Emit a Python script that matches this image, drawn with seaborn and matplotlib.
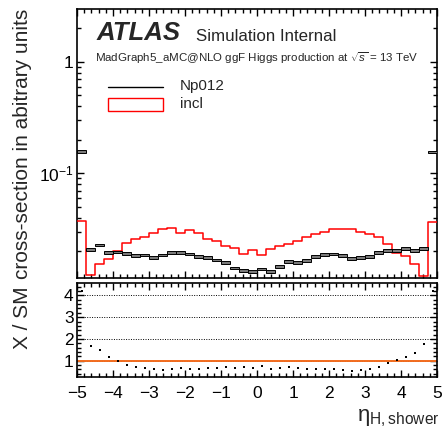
import numpy as np
import pandas as pd
import matplotlib
matplotlib.use("Agg")
import matplotlib.pyplot as plt
import seaborn as sns
from matplotlib.ticker import (AutoMinorLocator, MultipleLocator, FixedLocator,
                               FixedFormatter, LogLocator, NullFormatter)
from matplotlib.lines import Line2D
from matplotlib.patches import Rectangle

# ---------------- data ----------------
eta_range = (-5, 5)
bin_width = 0.25
incl = [0.0374, 0.0123, 0.0153, 0.0171, 0.0203, 0.0236, 0.0256, 0.0271, 0.0294, 0.0315,
        0.0321, 0.0290, 0.0310, 0.0290, 0.0260, 0.0247, 0.0223, 0.0213, 0.0188, 0.0204,
        0.0185, 0.0208, 0.0223, 0.0231, 0.0247, 0.0271, 0.0284, 0.0300, 0.0315, 0.0315,
        0.0317, 0.0300, 0.0288, 0.0271, 0.0231, 0.0194, 0.0183, 0.0153, 0.0119, 0.0369]
np012 = [0.157, 0.0208, 0.0228, 0.0196, 0.0197, 0.0192, 0.0184, 0.0185, 0.0177, 0.0185,
         0.0196, 0.0194, 0.0189, 0.0179, 0.0175, 0.0167, 0.0159, 0.0142, 0.0134, 0.0131,
         0.0139, 0.0131, 0.0147, 0.0162, 0.0159, 0.0166, 0.0180, 0.0187, 0.0189, 0.0184,
         0.0173, 0.0177, 0.0180, 0.0196, 0.0203, 0.0204, 0.0213, 0.0204, 0.0211, 0.155]
series_labels = ["Np012", "incl"]
top_ytick_vals = [0.1, 1]
top_ytick_labels = ["$10^{-1}$", "1"]

# ---------------- style ----------------
sns.set_style("ticks")
plt.rcParams["font.family"] = ["Liberation Sans", "DejaVu Sans"]
plt.rcParams["mathtext.fontset"] = "custom"
plt.rcParams["mathtext.rm"] = "Liberation Sans"
plt.rcParams["mathtext.it"] = "Liberation Sans:italic"
plt.rcParams["mathtext.bf"] = "Liberation Sans:bold"
plt.rcParams["axes.linewidth"] = 1.2

W, H = 444, 429
fig = plt.figure(figsize=(W / 100, H / 100), dpi=100)
fig.patch.set_facecolor("white")


def fx(x):
    return x / W


def fy(y):
    return 1 - y / H


ax = fig.add_axes([fx(77), fy(278), fx(437) - fx(77), fy(9) - fy(278)])
rax = fig.add_axes([fx(77), fy(377), fx(437) - fx(77), fy(283) - fy(377)])

n_bins = len(incl)
bin_edges = np.linspace(eta_range[0], eta_range[1], n_bins + 1)
centers = 0.5 * (bin_edges[:-1] + bin_edges[1:])
df = pd.DataFrame({"eta": centers, "incl": incl, "np012": np012})
df["ratio"] = df["np012"] / df["incl"]

# ---------------- top panel ----------------
sns.histplot(data=df, x="eta", weights="incl", binwidth=bin_width, binrange=eta_range,
             element="step", fill=False, color="red", linewidth=1.1, ax=ax, zorder=3)
f = 1.028
ax.bar(df["eta"], df["np012"] * (f - 1 / f), bottom=df["np012"] / f, width=bin_width,
       color="#7a7a7a", edgecolor="black", linewidth=0.7, zorder=4)
ax.set_yscale("log")
ax.set_xlim(*eta_range)
ax.set_ylim(0.01153, 2.97)
ax.set_xlabel("")
ax.set_ylabel("")
ax.xaxis.set_major_locator(MultipleLocator(1))
ax.xaxis.set_minor_locator(AutoMinorLocator(5))
ax.yaxis.set_major_locator(FixedLocator(top_ytick_vals))
ax.yaxis.set_major_formatter(FixedFormatter(top_ytick_labels))
ax.yaxis.set_minor_locator(LogLocator(base=10, subs=np.arange(2, 10)))
ax.yaxis.set_minor_formatter(NullFormatter())
ax.tick_params(labelbottom=False)

# ---------------- ratio panel ----------------
rax.axhline(1, color="#f26b1d", linewidth=1.4, zorder=2)
sns.scatterplot(data=df, x="eta", y="ratio", ax=rax, s=2.5, color="black",
                marker="s", linewidth=0, zorder=3)
rax.set_xlim(*eta_range)
rax.set_ylim(0.25, 4.57)
rax.set_xlabel("")
rax.set_ylabel("")
rax.xaxis.set_major_locator(MultipleLocator(1))
rax.xaxis.set_minor_locator(AutoMinorLocator(5))
rax.yaxis.set_major_locator(MultipleLocator(1))
rax.yaxis.set_minor_locator(AutoMinorLocator(5))
rax.grid(axis="y", which="major", linestyle=(0, (1, 1.5)), color="black", linewidth=0.7)
rax.set_axisbelow(True)

for a in (ax, rax):
    a.tick_params(which="both", direction="in", top=True, right=True, width=1.0,
                  labelsize=12.5, colors="black")
    a.tick_params(which="major", length=5)
    a.tick_params(which="minor", length=2.8)
    a.tick_params(axis="y", pad=2.5)
    a.tick_params(axis="x", pad=6.5)
    for s in a.spines.values():
        s.set_linewidth(1.2)
        s.set_color("black")

# ---------------- texts ----------------
fig.text(fx(97), fy(40), "ATLAS", fontsize=18.5, fontweight="bold", fontstyle="italic",
         va="baseline", ha="left")
fig.text(fx(196), fy(40.7), "Simulation Internal", fontsize=12.2, va="baseline", ha="left")
fig.text(fx(95), fy(61.7), r"MadGraph5_aMC@NLO ggF Higgs production at $\sqrt{s}$ = 13 TeV",
         fontsize=8.25, va="baseline", ha="left")

# legend
fig.add_artist(Line2D([fx(108), fx(163)], [fy(87), fy(87)], transform=fig.transFigure,
                      color="black", linewidth=1.0))
fig.add_artist(Rectangle((fx(108), fy(111)), fx(163) - fx(108), fy(98) - fy(111),
                         transform=fig.transFigure, fill=False, edgecolor="red", linewidth=1.0))
fig.text(fx(180), fy(90), series_labels[0], fontsize=11, va="baseline", ha="left")
fig.text(fx(180), fy(107.7), series_labels[1], fontsize=11, va="baseline", ha="left")

# axis titles
fig.text(fx(23), fy(9), "cross-section in abitrary units", rotation=90, fontsize=15,
         ha="center", va="top")
fig.text(fx(23), fy(286), "X / SM", rotation=90, fontsize=15, ha="center", va="top")
fig.text(fx(440), fy(429), r"$\mathrm{\eta}_{\mathrm{H,shower}}$", fontsize=16,
         ha="right", va="bottom")

fig.savefig("out.png", dpi=100, facecolor="white")
